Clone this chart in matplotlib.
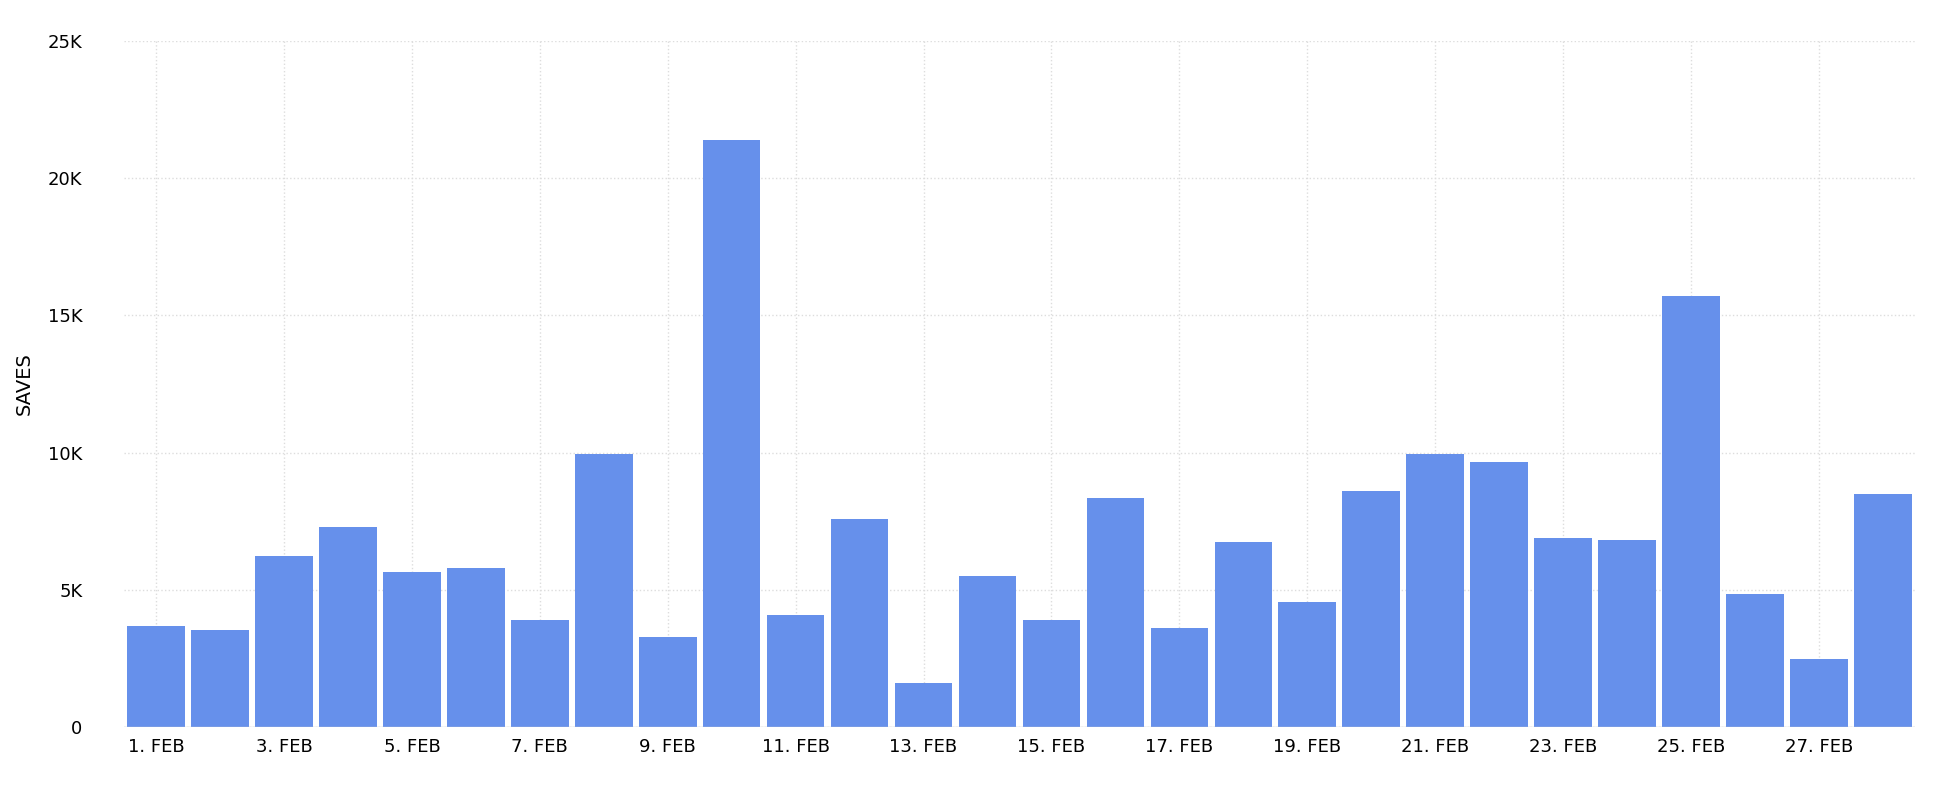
import matplotlib
matplotlib.use("Agg")
import matplotlib.pyplot as plt
from matplotlib.ticker import FuncFormatter

days = list(range(1, 29))
labels = [f"{d}. FEB" for d in days]
saves = [3700, 3550, 6250, 7300, 5650, 5800, 3900, 9950, 3300, 21400,
         4100, 7600, 1600, 5500, 3900, 8350, 3600, 6750, 4550, 8600,
         9950, 9650, 6900, 6800, 15700, 4850, 2500, 8500]

fig = plt.figure(figsize=(19.4, 8), dpi=100)
ax = fig.add_axes([0.064, 0.091, 0.923, 0.858])
x = list(range(len(days)))
ax.bar(x, saves, width=0.9, color="#6690eb", zorder=2)
ax.set_xlim(-0.5, len(days) - 0.5)
ax.set_ylim(0, 25000)
ax.set_yticks([0, 5000, 10000, 15000, 20000, 25000])
ax.yaxis.set_major_formatter(FuncFormatter(lambda v, p: "0" if v == 0 else f"{int(v/1000)}K"))
ax.set_xticks(x[::2])
ax.set_xticklabels(labels[::2])
ax.tick_params(length=0, labelsize=13, pad=8)
ax.tick_params(axis="y", pad=30)
ax.grid(True, linestyle=":", color="#dddddd", linewidth=1, zorder=0)
for s in ax.spines.values():
    s.set_visible(False)
ax.axhline(0, color="#cccccc", linewidth=1, zorder=3)
ax.set_ylabel("SAVES", fontsize=14, labelpad=10)
fig.savefig("out.png")
